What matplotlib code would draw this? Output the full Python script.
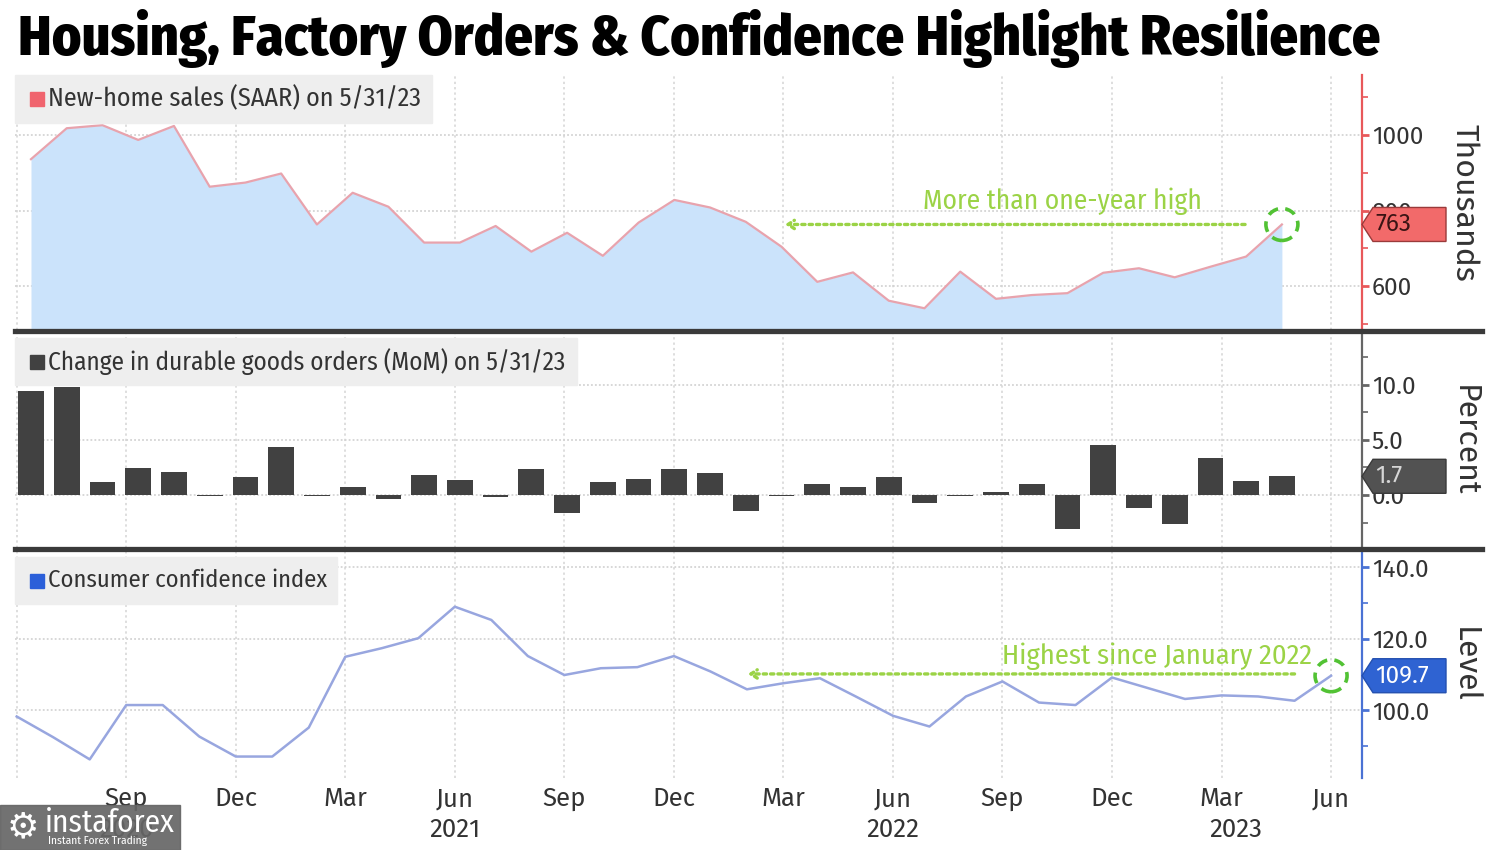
import numpy as np
import pandas as pd
import matplotlib
matplotlib.use("Agg")
import matplotlib.pyplot as plt
from matplotlib.patches import Rectangle, Polygon, Circle
from matplotlib.lines import Line2D
from matplotlib.ticker import MultipleLocator, FixedLocator
from matplotlib.transforms import IdentityTransform, blended_transform_factory
from matplotlib import font_manager

# ---------------- data ----------------
title = "Housing, Factory Orders & Confidence Highlight Resilience"
home_label = "New-home sales (SAAR) on 5/31/23"
durable_label = "Change in durable goods orders (MoM) on 5/31/23"
cci_label = "Consumer confidence index"

series_start = "2020-06-01"
home_sales = [936, 1018, 1026, 987, 1024, 863, 874, 898, 763, 847, 810, 715,
              715, 759, 691, 741, 680, 768, 828, 808, 770, 704, 611, 636,
              561, 541, 638, 566, 576, 581, 635, 647, 623, 651, 678, 763]
durable_orders = [9.45, 9.76, 1.21, 2.48, 2.06, -0.1, 1.67, 4.33, -0.1, 0.76, -0.39, 1.82,
                  1.36, -0.15, 2.33, -1.6, 1.21, 1.45, 2.33, 1.97, -1.45, -0.1, 1.0, 0.7,
                  1.6, -0.76, -0.1, 0.3, 1.03, -3.09, 4.55, -1.21, -2.64, 3.4, 1.27, 1.7]
cci = [98.3, 92.5, 86.3, 101.5, 101.5, 92.7, 87.1, 87.1, 95.2, 115.0, 117.4, 120.2,
       129.0, 125.3, 115.2, 109.9, 111.8, 112.1, 115.2, 110.9, 105.9, 107.6, 109.0, 103.8,
       98.5, 95.5, 103.9, 108.1, 102.2, 101.5, 109.2, 106.2, 103.2, 104.2, 103.9, 102.7, 109.7]

top_ticks = [600, 800, 1000]
top_tick_labels = ["600", "800", "1000"]
mid_ticks = [0, 5, 10]
mid_tick_labels = ["0.0", "5.0", "10.0"]
bot_ticks = [100, 120, 140]
bot_tick_labels = ["100.0", "120.0", "140.0"]
axis_titles = ["Thousands", "Percent", "Level"]
year_labels = ["2020", "2021", "2022", "2023"]
year_label_pos = [3, 12, 24, 33.4]   # month index (Jun 2020 = 0) under which the year sits
top_note = "More than one-year high"
bot_note = "Highest since January 2022"

# ---------------- helpers ----------------
W, H = 1500, 850
def fx(px):
    return px / W
def fy(py):
    return 1 - py / H

avail = {f.name for f in font_manager.fontManager.ttflist}
BODY = next((n for n in ["Fira Sans Condensed", "Encode Sans Semi Condensed",
                         "Asap Condensed", "DejaVu Sans"] if n in avail), "DejaVu Sans")
AXF = next((n for n in ["Fira Sans", "Open Sans", "DejaVu Sans"] if n in avail), "DejaVu Sans")
plt.rcParams["font.family"] = [BODY, "DejaVu Sans"]

fig = plt.figure(figsize=(15, 8.5), dpi=100)
fig.patch.set_facecolor("white")

GREEN_T = "#9bd346"
GREEN_C = "#52c234"
GRID = "#d4d4d4"
TXT = "#333333"

home_dates = pd.date_range(series_start, periods=len(home_sales), freq="MS")
dur_dates = pd.date_range(series_start, periods=len(durable_orders), freq="MS")
cci_dates = pd.date_range(series_start, periods=len(cci), freq="MS")
origin = pd.Timestamp(series_start)
def month_idx(dates):
    return np.array([(d.year - origin.year) * 12 + d.month - origin.month for d in dates], float)

xh = month_idx(home_dates)
xd = month_idx(dur_dates)
xc = month_idx(cci_dates)

L, R = 15, 1362
ax1 = fig.add_axes([fx(L), fy(330), fx(R) - fx(L), (330 - 75) / H])
ax2 = fig.add_axes([fx(L), fy(548), fx(R) - fx(L), (548 - 334) / H])
ax3 = fig.add_axes([fx(L), fy(778), fx(R) - fx(L), (778 - 552) / H])

# bottom panel x-scale (month index) and top/mid scale (slightly compressed as in source)
xb0, xb1 = (L - 16.7) / 36.51, (R - 16.7) / 36.51
xt0, xt1 = (L - 31) / 35.74, (R - 31) / 35.74

ax1.set_xlim(xt0, xt1); ax2.set_xlim(xt0, xt1); ax3.set_xlim(xb0, xb1)
ax1.set_ylim(483.4, 1159); ax2.set_ylim(-4.8, 14.6); ax3.set_ylim(81.1, 144.3)

grid_months = np.arange(0, xc.max() + 1, 3)
grid_frac = (grid_months - xb0) / (xb1 - xb0)

TICK_FS = 17.5

def style_axis(ax, spine_color, ticks, labels, minor):
    for s in ["left", "top", "bottom"]:
        ax.spines[s].set_visible(False)
    ax.spines["right"].set_color(spine_color)
    ax.spines["right"].set_linewidth(1.6)
    ax.yaxis.tick_right()
    ax.yaxis.set_major_locator(FixedLocator(ticks))
    ax.set_yticklabels(labels, family=AXF)
    ax.yaxis.set_minor_locator(MultipleLocator(minor))
    ax.tick_params(axis="y", which="major", direction="out", length=5, width=2,
                   color=spine_color, labelcolor=TXT, labelsize=TICK_FS, pad=2)
    ax.tick_params(axis="y", which="minor", direction="out", length=4, width=1.2,
                   color=spine_color)
    ax.set_xticks([])
    for t in ticks:
        ax.axhline(t, color=GRID, lw=1.3, ls=(0, (1, 1.2)), zorder=0)
    ax.vlines(grid_frac, 0, 1, transform=ax.transAxes, color=GRID, lw=1.1,
              ls=(0, (1.5, 2)), zorder=0)
    ax.set_facecolor("none")

style_axis(ax1, "#e8585a", top_ticks, top_tick_labels, 100)
style_axis(ax2, "#666666", mid_ticks, mid_tick_labels, 2.5)
style_axis(ax3, "#4a72d4", bot_ticks, bot_tick_labels, 10)

# ---------------- series ----------------
ax1.fill_between(xh, home_sales, 383.4, color="#cbe3fb", zorder=1, lw=0)
ax1.plot(xh, home_sales, color="#e8a3ad", lw=1.6, zorder=2)

ax2.bar(xd, durable_orders, width=0.72, color="#414141", zorder=2)

ax3.plot(xc, cci, color="#98a6df", lw=1.8, zorder=2)

# bottom x-axis labels
tick_dates = cci_dates[3::3]
ax3.set_xticks(month_idx(tick_dates))
ax3.set_xticklabels([d.strftime("%b") for d in tick_dates], fontsize=18.5, color=TXT,
                    family=AXF)
ax3.tick_params(axis="x", length=0, pad=6)
btr = blended_transform_factory(ax3.transData, ax3.transAxes)
for lab, pos in zip(year_labels, year_label_pos):
    ax3.text(pos, -0.23, lab, transform=btr, ha="center", va="center",
             fontsize=18.5, color=TXT, clip_on=False, zorder=1, family=AXF)

fig.canvas.draw()
renderer = fig.canvas.get_renderer()
def fit_width(t, target_px):
    bb = t.get_window_extent(renderer)
    t.set_fontsize(t.get_fontsize() * target_px / bb.width)

# axis titles
ats = []
for ax, t in zip([ax1, ax2, ax3], axis_titles):
    ats.append(ax.text(1.076, 0.5, t, transform=ax.transAxes, rotation=-90, ha="center",
                       va="center", fontsize=22, color=TXT, clip_on=False, family=AXF))
fig.canvas.draw()
k = 158 / ats[0].get_window_extent(renderer).height
for at in ats:
    at.set_fontsize(at.get_fontsize() * k)

# title
tt = fig.text(fx(18), fy(38), title, fontsize=30, fontweight="heavy",
              color="black", va="center", ha="left")
fit_width(tt, 1363)

# legend boxes
legs = [(home_label, "#f0646e", 75, 123, 432, 373),
        (durable_label, "#414141", 338, 385, 577, 518),
        (cci_label, "#2b5fd9", 557, 604, 337, 278)]
for lab, col, y0, y1, x1, tw in legs:
    fig.add_artist(Rectangle((fx(L), fy(y1)), fx(x1) - fx(L), (y1 - y0) / H,
                             transform=fig.transFigure, color="#eeeeee", zorder=5))
    yc = (y0 + y1) / 2
    fig.add_artist(Rectangle((fx(30), fy(yc + 7)), fx(14), 14 / H,
                             transform=fig.transFigure, color=col, zorder=6))
    t = fig.text(fx(48), fy(yc), lab, fontsize=17, color=TXT, va="center",
                 ha="left", zorder=7)
    fit_width(t, tw)

# separators
for y in [331, 549]:
    fig.add_artist(Line2D([fx(L), fx(1482)], [fy(y), fy(y)], transform=fig.transFigure,
                          color="#3a3a3a", lw=3.8, zorder=8))

# value tags on the right axis
def tag(ax, value, text, fc, tc, ec):
    yd = ax.transData.transform((0, value))[1]
    xd0 = R
    pts = [(xd0, yd), (xd0 + 11, yd + 17), (xd0 + 84, yd + 17),
           (xd0 + 84, yd - 17), (xd0 + 11, yd - 17)]
    fig.add_artist(Polygon(pts, closed=True, transform=IdentityTransform(), fc=fc,
                           ec=ec, lw=1, zorder=9))
    fig.text((xd0 + 13) / W, yd / H, text, fontsize=TICK_FS, color=tc,
             va="center", ha="left", zorder=10, family=AXF)

tag(ax1, home_sales[-1], f"{home_sales[-1]:.0f}", "#f26a6a", "#3b1414", "#9a3a3a")
tag(ax2, durable_orders[-1], f"{durable_orders[-1]:.1f}", "#525252", "#d6d6d6", "#3a3a3a")
tag(ax3, cci[-1], f"{cci[-1]:.1f}", "#2f63d2", "white", "#2450b0")

# annotations
def circle(ax, x, y):
    xd_, yd_ = ax.transData.transform((x, y))
    fig.add_artist(Circle((xd_, yd_), 16, transform=IdentityTransform(), fill=False,
                          ec=GREEN_C, lw=2.6, ls=(0, (3, 2)), zorder=11))

arrow_style = dict(arrowstyle="->,head_length=0.45,head_width=0.3", color=GREEN_T,
                   lw=2.4, ls=(0, (1.0, 1.2)), shrinkA=0, shrinkB=0)
level_top = home_sales[-1]
ax1.annotate("", xy=(21.1, level_top), xytext=(xh[-1] - 1.03, level_top),
             arrowprops=arrow_style, zorder=11)
nt = ax1.text(28.85, 825, top_note, ha="center", va="center", fontsize=17,
              color=GREEN_T, zorder=11)
fit_width(nt, 278)
circle(ax1, xh[-1], home_sales[-1])

level_bot = 110.2
ax3.annotate("", xy=(20.03, level_bot), xytext=(xc[-1] - 1.0, level_bot),
             arrowprops=arrow_style, zorder=11)
bt = ax3.text(31.23, 115.2, bot_note, ha="center", va="center", fontsize=17,
              color=GREEN_T, zorder=11)
fit_width(bt, 310)
circle(ax3, xc[-1], cci[-1])

# watermark
fig.add_artist(Rectangle((0, fy(850)), fx(180), 45 / H, transform=fig.transFigure,
                         color="#666666", alpha=0.92, zorder=12))
fig.text(fx(23), fy(827), "\u2699", fontsize=26, color="white", ha="center",
         va="center", zorder=13, family="DejaVu Sans")
wm = fig.text(fx(45), fy(823), "instaforex", fontsize=22, color="white", ha="left",
              va="center", zorder=13)
fit_width(wm, 130)
wm2 = fig.text(fx(48), fy(841), "Instant Forex Trading", fontsize=7.5, color="white",
               ha="left", va="center", zorder=13)
fit_width(wm2, 100)

fig.savefig("out.png", dpi=100)
